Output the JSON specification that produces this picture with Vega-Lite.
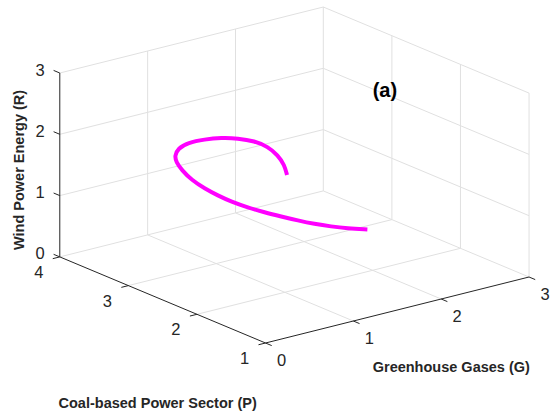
{
  "$schema": "https://vega.github.io/schema/vega-lite/v6.json",
  "width": 550,
  "height": 417,
  "autosize": {"type": "fit", "contains": "padding"},
  "padding": 0,
  "view": {"stroke": null},
  "config": {"text": {"font": "Liberation Sans", "color": "#262626"}},
  "layer": [
    {
      "data": {"values": [
        {"G1": 0, "P1": 4, "R1": 1, "G2": 3, "P2": 4, "R2": 1},
        {"G1": 0, "P1": 4, "R1": 2, "G2": 3, "P2": 4, "R2": 2},
        {"G1": 0, "P1": 4, "R1": 3, "G2": 3, "P2": 4, "R2": 3},
        {"G1": 1, "P1": 4, "R1": 0, "G2": 1, "P2": 4, "R2": 3},
        {"G1": 2, "P1": 4, "R1": 0, "G2": 2, "P2": 4, "R2": 3},
        {"G1": 3, "P1": 4, "R1": 0, "G2": 3, "P2": 4, "R2": 3},
        {"G1": 3, "P1": 1, "R1": 1, "G2": 3, "P2": 4, "R2": 1},
        {"G1": 3, "P1": 1, "R1": 2, "G2": 3, "P2": 4, "R2": 2},
        {"G1": 3, "P1": 1, "R1": 3, "G2": 3, "P2": 4, "R2": 3},
        {"G1": 3, "P1": 1, "R1": 0, "G2": 3, "P2": 1, "R2": 3},
        {"G1": 3, "P1": 2, "R1": 0, "G2": 3, "P2": 2, "R2": 3},
        {"G1": 3, "P1": 3, "R1": 0, "G2": 3, "P2": 3, "R2": 3},
        {"G1": 1, "P1": 1, "R1": 0, "G2": 1, "P2": 4, "R2": 0},
        {"G1": 2, "P1": 1, "R1": 0, "G2": 2, "P2": 4, "R2": 0},
        {"G1": 3, "P1": 1, "R1": 0, "G2": 3, "P2": 4, "R2": 0},
        {"G1": 0, "P1": 2, "R1": 0, "G2": 3, "P2": 2, "R2": 0},
        {"G1": 0, "P1": 3, "R1": 0, "G2": 3, "P2": 3, "R2": 0},
        {"G1": 0, "P1": 4, "R1": 0, "G2": 3, "P2": 4, "R2": 0}
      ]},
      "transform": [
        {"calculate": "266 + 88*datum.G1 - 68.7*(datum.P1-1)", "as": "sx1"},
        {"calculate": "343 - 22*datum.G1 - 28.7*(datum.P1-1) - 61.3*datum.R1", "as": "sy1"},
        {"calculate": "266 + 88*datum.G2 - 68.7*(datum.P2-1)", "as": "sx2"},
        {"calculate": "343 - 22*datum.G2 - 28.7*(datum.P2-1) - 61.3*datum.R2", "as": "sy2"}
      ],
      "mark": {"type": "rule", "color": "#e0e0e0", "strokeWidth": 1},
      "encoding": {
        "x": {"field": "sx1", "type": "quantitative", "scale": {"domain": [0, 550], "nice": false, "zero": false}, "axis": null},
        "y": {"field": "sy1", "type": "quantitative", "scale": {"domain": [0, 417], "nice": false, "zero": false, "reverse": true}, "axis": null},
        "x2": {"field": "sx2"},
        "y2": {"field": "sy2"}
      }
    },
    {
      "data": {"values": [
        {"G1": 0, "P1": 4, "R1": 0, "G2": 0, "P2": 4, "R2": 3},
        {"G1": 0, "P1": 1, "R1": 0, "G2": 0, "P2": 4, "R2": 0},
        {"G1": 0, "P1": 1, "R1": 0, "G2": 3, "P2": 1, "R2": 0},
        {"G1": 0, "P1": 4, "R1": 0, "G2": 0, "P2": 4.09, "R2": 0},
        {"G1": 0, "P1": 4, "R1": 1, "G2": 0, "P2": 4.09, "R2": 1},
        {"G1": 0, "P1": 4, "R1": 2, "G2": 0, "P2": 4.09, "R2": 2},
        {"G1": 0, "P1": 4, "R1": 3, "G2": 0, "P2": 4.09, "R2": 3},
        {"G1": 0, "P1": 1, "R1": 0, "G2": -0.08, "P2": 1, "R2": 0},
        {"G1": 0, "P1": 2, "R1": 0, "G2": -0.08, "P2": 2, "R2": 0},
        {"G1": 0, "P1": 3, "R1": 0, "G2": -0.08, "P2": 3, "R2": 0},
        {"G1": 0, "P1": 4, "R1": 0, "G2": -0.08, "P2": 4, "R2": 0},
        {"G1": 0, "P1": 1, "R1": 0, "G2": 0, "P2": 0.91, "R2": 0},
        {"G1": 1, "P1": 1, "R1": 0, "G2": 1, "P2": 0.91, "R2": 0},
        {"G1": 2, "P1": 1, "R1": 0, "G2": 2, "P2": 0.91, "R2": 0},
        {"G1": 3, "P1": 1, "R1": 0, "G2": 3, "P2": 0.91, "R2": 0}
      ]},
      "transform": [
        {"calculate": "266 + 88*datum.G1 - 68.7*(datum.P1-1)", "as": "sx1"},
        {"calculate": "343 - 22*datum.G1 - 28.7*(datum.P1-1) - 61.3*datum.R1", "as": "sy1"},
        {"calculate": "266 + 88*datum.G2 - 68.7*(datum.P2-1)", "as": "sx2"},
        {"calculate": "343 - 22*datum.G2 - 28.7*(datum.P2-1) - 61.3*datum.R2", "as": "sy2"}
      ],
      "mark": {"type": "rule", "color": "#262626", "strokeWidth": 1},
      "encoding": {
        "x": {"field": "sx1", "type": "quantitative", "scale": {"domain": [0, 550], "nice": false, "zero": false}, "axis": null},
        "y": {"field": "sy1", "type": "quantitative", "scale": {"domain": [0, 417], "nice": false, "zero": false, "reverse": true}, "axis": null},
        "x2": {"field": "sx2"},
        "y2": {"field": "sy2"}
      }
    },
    {
      "data": {"values": [
        {"i": 0, "G": 2.344, "P": 2.517, "R": 0.30},
        {"i": 1, "G": 2.159, "P": 2.572, "R": 0.36},
        {"i": 2, "G": 2.012, "P": 2.620, "R": 0.42},
        {"i": 3, "G": 1.873, "P": 2.686, "R": 0.48},
        {"i": 4, "G": 1.741, "P": 2.759, "R": 0.55},
        {"i": 5, "G": 1.618, "P": 2.843, "R": 0.62},
        {"i": 6, "G": 1.497, "P": 2.932, "R": 0.69},
        {"i": 7, "G": 1.387, "P": 3.035, "R": 0.76},
        {"i": 8, "G": 1.285, "P": 3.145, "R": 0.84},
        {"i": 9, "G": 1.211, "P": 3.246, "R": 0.92},
        {"i": 10, "G": 1.142, "P": 3.351, "R": 1.01},
        {"i": 11, "G": 1.090, "P": 3.473, "R": 1.11},
        {"i": 12, "G": 1.085, "P": 3.612, "R": 1.21},
        {"i": 13, "G": 1.088, "P": 3.696, "R": 1.30},
        {"i": 14, "G": 1.106, "P": 3.742, "R": 1.37},
        {"i": 15, "G": 1.195, "P": 3.807, "R": 1.43},
        {"i": 16, "G": 1.312, "P": 3.812, "R": 1.48},
        {"i": 17, "G": 1.447, "P": 3.742, "R": 1.52},
        {"i": 18, "G": 1.571, "P": 3.657, "R": 1.54},
        {"i": 19, "G": 1.680, "P": 3.555, "R": 1.54},
        {"i": 20, "G": 1.774, "P": 3.432, "R": 1.52},
        {"i": 21, "G": 1.813, "P": 3.289, "R": 1.48},
        {"i": 22, "G": 1.795, "P": 3.120, "R": 1.43},
        {"i": 23, "G": 1.735, "P": 2.946, "R": 1.37},
        {"i": 24, "G": 1.656, "P": 2.808, "R": 1.30}
      ]},
      "transform": [
        {"calculate": "266 + 88*datum.G - 68.7*(datum.P-1)", "as": "sx"},
        {"calculate": "343 - 22*datum.G - 28.7*(datum.P-1) - 61.3*datum.R", "as": "sy"}
      ],
      "mark": {"type": "line", "color": "#ff00ff", "strokeWidth": 4, "interpolate": "basis"},
      "encoding": {
        "x": {"field": "sx", "type": "quantitative", "scale": {"domain": [0, 550], "nice": false, "zero": false}, "axis": null},
        "y": {"field": "sy", "type": "quantitative", "scale": {"domain": [0, 417], "nice": false, "zero": false, "reverse": true}, "axis": null},
        "order": {"field": "i", "type": "quantitative"}
      }
    },
    {
      "data": {"values": [
        {"G": 0, "P": 4, "R": 0, "label": "0"},
        {"G": 0, "P": 4, "R": 1, "label": "1"},
        {"G": 0, "P": 4, "R": 2, "label": "2"},
        {"G": 0, "P": 4, "R": 3, "label": "3"}
      ]},
      "transform": [
        {"calculate": "266 + 88*datum.G - 68.7*(datum.P-1)", "as": "sx"},
        {"calculate": "343 - 22*datum.G - 28.7*(datum.P-1) - 61.3*datum.R", "as": "sy"}
      ],
      "mark": {"type": "text", "fontSize": 16.5, "align": "right", "baseline": "middle", "dx": -15, "dy": -2.5},
      "encoding": {
        "x": {"field": "sx", "type": "quantitative", "scale": {"domain": [0, 550], "nice": false, "zero": false}, "axis": null},
        "y": {"field": "sy", "type": "quantitative", "scale": {"domain": [0, 417], "nice": false, "zero": false, "reverse": true}, "axis": null},
        "text": {"field": "label"}
      }
    },
    {
      "data": {"values": [
        {"G": 0, "P": 1, "R": 0, "label": "1"},
        {"G": 0, "P": 2, "R": 0, "label": "2"},
        {"G": 0, "P": 3, "R": 0, "label": "3"},
        {"G": 0, "P": 4, "R": 0, "label": "4"}
      ]},
      "transform": [
        {"calculate": "266 + 88*datum.G - 68.7*(datum.P-1)", "as": "sx"},
        {"calculate": "343 - 22*datum.G - 28.7*(datum.P-1) - 61.3*datum.R", "as": "sy"}
      ],
      "mark": {"type": "text", "fontSize": 16.5, "align": "center", "baseline": "middle", "dx": -21, "dy": 16},
      "encoding": {
        "x": {"field": "sx", "type": "quantitative", "scale": {"domain": [0, 550], "nice": false, "zero": false}, "axis": null},
        "y": {"field": "sy", "type": "quantitative", "scale": {"domain": [0, 417], "nice": false, "zero": false, "reverse": true}, "axis": null},
        "text": {"field": "label"}
      }
    },
    {
      "data": {"values": [
        {"G": 0, "P": 1, "R": 0, "label": "0"},
        {"G": 1, "P": 1, "R": 0, "label": "1"},
        {"G": 2, "P": 1, "R": 0, "label": "2"},
        {"G": 3, "P": 1, "R": 0, "label": "3"}
      ]},
      "transform": [
        {"calculate": "266 + 88*datum.G - 68.7*(datum.P-1)", "as": "sx"},
        {"calculate": "343 - 22*datum.G - 28.7*(datum.P-1) - 61.3*datum.R", "as": "sy"}
      ],
      "mark": {"type": "text", "fontSize": 16.5, "align": "center", "baseline": "middle", "dx": 16, "dy": 18},
      "encoding": {
        "x": {"field": "sx", "type": "quantitative", "scale": {"domain": [0, 550], "nice": false, "zero": false}, "axis": null},
        "y": {"field": "sy", "type": "quantitative", "scale": {"domain": [0, 417], "nice": false, "zero": false, "reverse": true}, "axis": null},
        "text": {"field": "label"}
      }
    },
    {
      "data": {"values": [{"G": 0, "P": 4, "R": 1.5, "label": "Wind Power Energy (R)"}]},
      "transform": [
        {"calculate": "266 + 88*datum.G - 68.7*(datum.P-1)", "as": "sx"},
        {"calculate": "343 - 22*datum.G - 28.7*(datum.P-1) - 61.3*datum.R", "as": "sy"}
      ],
      "mark": {"type": "text", "fontSize": 14.5, "fontWeight": "bold", "align": "center", "baseline": "middle", "angle": 270, "dx": -5, "dy": -40},
      "encoding": {
        "x": {"field": "sx", "type": "quantitative", "scale": {"domain": [0, 550], "nice": false, "zero": false}, "axis": null},
        "y": {"field": "sy", "type": "quantitative", "scale": {"domain": [0, 417], "nice": false, "zero": false, "reverse": true}, "axis": null},
        "text": {"field": "label"}
      }
    },
    {
      "data": {"values": [{"G": 1.5, "P": 1, "R": 0, "label": "Greenhouse Gases (G)"}]},
      "transform": [
        {"calculate": "266 + 88*datum.G - 68.7*(datum.P-1)", "as": "sx"},
        {"calculate": "343 - 22*datum.G - 28.7*(datum.P-1) - 61.3*datum.R", "as": "sy"}
      ],
      "mark": {"type": "text", "fontSize": 14.5, "fontWeight": "bold", "align": "center", "baseline": "middle", "dx": 54, "dy": 58},
      "encoding": {
        "x": {"field": "sx", "type": "quantitative", "scale": {"domain": [0, 550], "nice": false, "zero": false}, "axis": null},
        "y": {"field": "sy", "type": "quantitative", "scale": {"domain": [0, 417], "nice": false, "zero": false, "reverse": true}, "axis": null},
        "text": {"field": "label"}
      }
    },
    {
      "data": {"values": [{"G": 0, "P": 2.5, "R": 0, "label": "Coal-based Power Sector (P)"}]},
      "transform": [
        {"calculate": "266 + 88*datum.G - 68.7*(datum.P-1)", "as": "sx"},
        {"calculate": "343 - 22*datum.G - 28.7*(datum.P-1) - 61.3*datum.R", "as": "sy"}
      ],
      "mark": {"type": "text", "fontSize": 14.5, "fontWeight": "bold", "align": "center", "baseline": "middle", "dx": -5, "dy": 104},
      "encoding": {
        "x": {"field": "sx", "type": "quantitative", "scale": {"domain": [0, 550], "nice": false, "zero": false}, "axis": null},
        "y": {"field": "sy", "type": "quantitative", "scale": {"domain": [0, 417], "nice": false, "zero": false, "reverse": true}, "axis": null},
        "text": {"field": "label"}
      }
    },
    {
      "data": {"values": [{"G": 3, "P": 3.28, "R": 1.96, "label": "(a)"}]},
      "transform": [
        {"calculate": "266 + 88*datum.G - 68.7*(datum.P-1)", "as": "sx"},
        {"calculate": "343 - 22*datum.G - 28.7*(datum.P-1) - 61.3*datum.R", "as": "sy"}
      ],
      "mark": {"type": "text", "fontSize": 20, "fontWeight": "bold", "align": "left", "baseline": "middle", "color": "#000000"},
      "encoding": {
        "x": {"field": "sx", "type": "quantitative", "scale": {"domain": [0, 550], "nice": false, "zero": false}, "axis": null},
        "y": {"field": "sy", "type": "quantitative", "scale": {"domain": [0, 417], "nice": false, "zero": false, "reverse": true}, "axis": null},
        "text": {"field": "label"}
      }
    }
  ]
}
